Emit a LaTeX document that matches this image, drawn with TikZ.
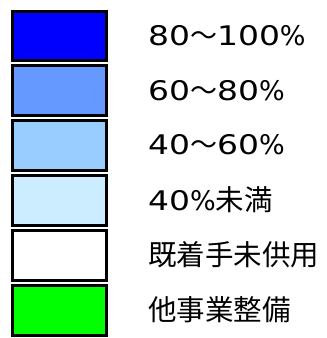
\documentclass[tikz,border=0pt]{standalone}
\usepackage{fontspec}
\setmainfont{DejaVu Sans}
\newfontfamily\cjk{Noto Sans CJK JP}
\newfontfamily\dg[FakeStretch=1.22]{DejaVu Sans}
\definecolor{cA}{HTML}{0000FF}
\definecolor{cB}{HTML}{6699FF}
\definecolor{cC}{HTML}{99CCFF}
\definecolor{cD}{HTML}{CCECFF}
\definecolor{cE}{HTML}{FFFFFF}
\definecolor{cF}{HTML}{00FF00}
\newcommand{\lbl}[1]{{\fontsize{27}{30}\selectfont #1}}
\begin{document}
\begin{tikzpicture}[x=1pt,y=-1pt,
  legbox/.style={draw=black,line width=3pt,minimum width=94pt,minimum height=49.7pt,inner sep=0pt,anchor=north west},
  legtext/.style={anchor=west,inner sep=0pt}]
\useasboundingbox (0,0) rectangle (327,338);
\node[legbox,fill=cA] (b1) at (10.5,9.5) {};
\node[legbox,fill=cB] (b2) at (10.5,64.4) {};
\node[legbox,fill=cC] (b3) at (10.5,119.3) {};
\node[legbox,fill=cD] (b4) at (10.5,174.2) {};
\node[legbox,fill=cE] (b5) at (10.5,229.1) {};
\node[legbox,fill=cF] (b6) at (10.5,284.0) {};
\node[legtext] (t1) at (148,35.3) {\lbl{\dg 80{\cjk ～}100{\rmfamily\%}}};
\node[legtext] (t2) at (148,90.2) {\lbl{\dg 60{\cjk ～}80{\rmfamily\%}}};
\node[legtext] (t3) at (148,145.1) {\lbl{\dg 40{\cjk ～}60{\rmfamily\%}}};
\node[legtext] (t4) at (148,200.0) {\lbl{\dg 40{\rmfamily\%}{\cjk\fontsize{28.5}{30}\selectfont 未満}}};
\node[legtext] (t5) at (148,254.9) {\lbl{\cjk\fontsize{28.5}{30}\selectfont 既着手未供用}};
\node[legtext] (t6) at (148,309.8) {\lbl{\cjk\fontsize{28.5}{30}\selectfont 他事業整備}};
\end{tikzpicture}
\end{document}
